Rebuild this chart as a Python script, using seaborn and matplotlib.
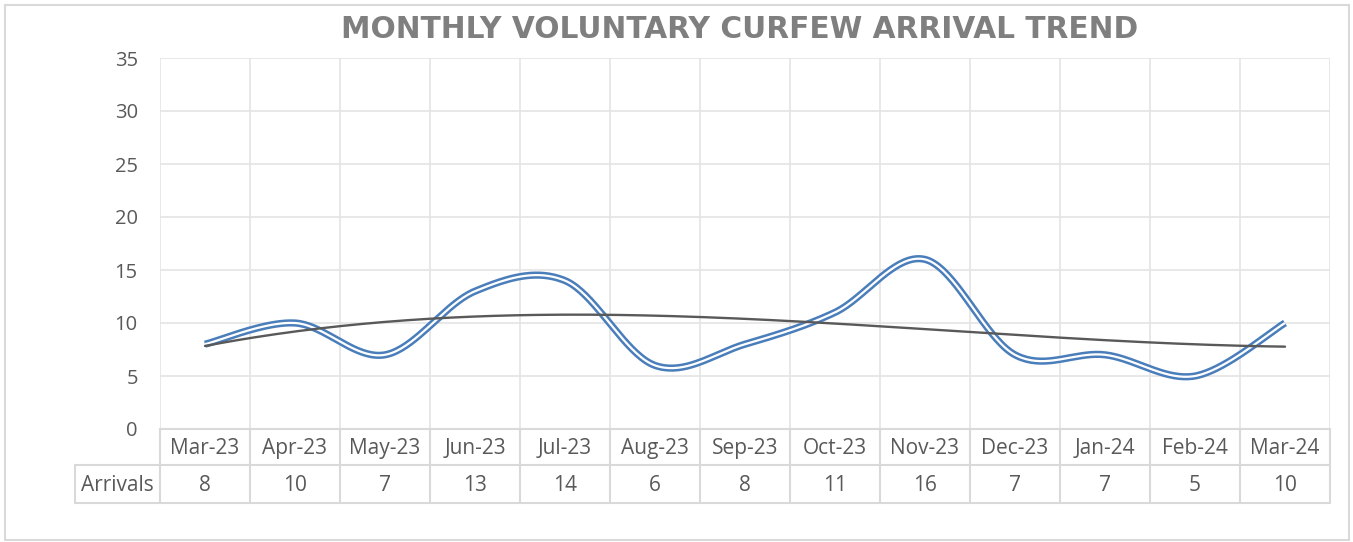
import numpy as np
import pandas as pd
import matplotlib
matplotlib.use("Agg")
import matplotlib.pyplot as plt
import seaborn as sns
from matplotlib.patches import Rectangle


# ------------------------------#
# Data
# ------------------------------#
months = ["Mar-23", "Apr-23", "May-23", "Jun-23", "Jul-23", "Aug-23", "Sep-23",
          "Oct-23", "Nov-23", "Dec-23", "Jan-24", "Feb-24", "Mar-24"]
arrivals = [8, 10, 7, 13, 14, 6, 8, 11, 16, 7, 7, 5, 10]
row_label = "Arrivals"
y_ticks = [0, 5, 10, 15, 20, 25, 30, 35]
title = "MONTHLY VOLUNTARY CURFEW ARRIVAL TREND"

BLUE = "#4A7EBB"
TREND = "#595959"
GRID = "#E4E4E4"
BORDER = "#D9D9D9"
TXT = "#595959"
FONT = "Open Sans"


# ------------------------------#
# Excel-style smoothing (Catmull-Rom bezier)
# ------------------------------#
def smooth_curve(xs, ys, n=40):
    xs = np.asarray(xs, float)
    ys = np.asarray(ys, float)
    px = np.concatenate([[xs[0]], xs, [xs[-1]]])
    py = np.concatenate([[ys[0]], ys, [ys[-1]]])
    out_x, out_y = [], []
    t = np.linspace(0, 1, n)
    for i in range(1, len(px) - 2):
        p0 = np.array([px[i], py[i]])
        p3 = np.array([px[i + 1], py[i + 1]])
        c1 = p0 + (np.array([px[i + 1], py[i + 1]]) - np.array([px[i - 1], py[i - 1]])) / 6
        c2 = p3 - (np.array([px[i + 2], py[i + 2]]) - np.array([px[i], py[i]])) / 6
        b = ((1 - t) ** 3)[:, None] * p0 + (3 * (1 - t) ** 2 * t)[:, None] * c1 \
            + (3 * (1 - t) * t ** 2)[:, None] * c2 + (t ** 3)[:, None] * p3
        out_x.extend(b[:, 0])
        out_y.extend(b[:, 1])
    return np.array(out_x), np.array(out_y)


x_idx = np.arange(len(months))
sx, sy = smooth_curve(x_idx, arrivals)
curve = pd.DataFrame({"x": sx, "y": sy})

# polynomial trendline
coef = np.polyfit(x_idx + 1, arrivals, 3)
tx = np.linspace(0, len(months) - 1, 200)
trend = pd.DataFrame({"x": tx, "y": np.polyval(coef, tx + 1)})


# ------------------------------#
# Figure
# ------------------------------#
sns.set_style("white")
plt.rcParams["font.family"] = [FONT, "DejaVu Sans"]

W, H = 1353, 542
fig = plt.figure(figsize=(W / 100, H / 100), dpi=100)

# outer chart frame
fig.patches.append(Rectangle((5 / W, 1 - 540 / H), 1344 / W, 535 / H,
                             transform=fig.transFigure, fill=False,
                             edgecolor=BORDER, linewidth=1.5))

left, right, top, bottom = 160, 1330, 58, 429
ax = fig.add_axes([left / W, 1 - bottom / H, (right - left) / W, (bottom - top) / H])

sns.lineplot(data=curve, x="x", y="y", ax=ax, sort=False, color=BLUE,
             linewidth=5.2, solid_capstyle="butt", zorder=3)
sns.lineplot(data=curve, x="x", y="y", ax=ax, sort=False, color="white",
             linewidth=1.6, solid_capstyle="butt", zorder=4)
sns.lineplot(data=trend, x="x", y="y", ax=ax, color=TREND, linewidth=1.7, zorder=5)

ax.set_xlim(-0.5, len(months) - 0.5)
ax.set_ylim(0, 35)
ax.set_yticks(y_ticks)
ax.set_yticklabels([str(v) for v in y_ticks], fontsize=14.5, color=TXT)
ax.tick_params(axis="y", length=0, pad=16)
ax.set_xticks(np.arange(-0.5, len(months), 1.0))
ax.set_xticklabels([])
ax.tick_params(axis="x", length=0)
ax.grid(True, color=GRID, linewidth=1.2)
ax.set_xlabel("")
ax.set_ylabel("")
for s in ax.spines.values():
    s.set_visible(False)

# ------------------------------#
# Data table under the axis
# ------------------------------#
ax_h = bottom - top
ax_w = right - left
row1 = -(465 - bottom) / ax_h
row2 = -(503 - bottom) / ax_h
lab_left = -(left - 75) / ax_w
trans = ax.get_xaxis_transform()

line_kw = dict(color=BORDER, linewidth=1.5, clip_on=False, transform=trans)
ax.plot([-0.5, len(months) - 0.5], [0, 0], **line_kw)
ax.plot([-0.5, len(months) - 0.5], [row1, row1], **line_kw)
ax.plot([-0.5, len(months) - 0.5], [row2, row2], **line_kw)
ax.plot([lab_left, 0], [row1, row1], color=BORDER, linewidth=1.5, clip_on=False,
        transform=ax.transAxes)
ax.plot([lab_left, 0], [row2, row2], color=BORDER, linewidth=1.5, clip_on=False,
        transform=ax.transAxes)
ax.plot([lab_left, lab_left], [row1, row2], color=BORDER, linewidth=1.5,
        clip_on=False, transform=ax.transAxes)
for b in np.arange(-0.5, len(months), 1.0):
    ax.plot([b, b], [0, row2], **line_kw)

for i, (m, v) in enumerate(zip(months, arrivals)):
    ax.text(i, row1 / 2 - 0.004, m, transform=trans, ha="center", va="center",
            fontsize=15, color=TXT)
    ax.text(i, (row1 + row2) / 2 - 0.004, str(v), transform=trans, ha="center",
            va="center", fontsize=15, color=TXT)
ax.text((lab_left + 0) / 2, (row1 + row2) / 2 - 0.004, row_label,
        transform=ax.transAxes, ha="center", va="center", fontsize=15, color=TXT)

fig.text(740 / W, 1 - 30 / H, title, ha="center", va="center", fontsize=21.3,
         fontweight="bold", color="#7F7F7F", family=["DejaVu Sans"])

fig.savefig("out.png", dpi=100)
